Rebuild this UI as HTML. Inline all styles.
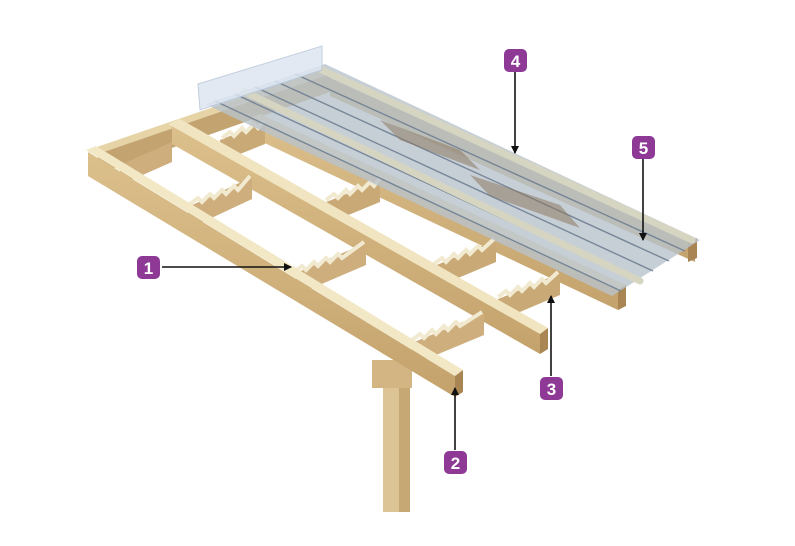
<!DOCTYPE html>
<html><head><meta charset="utf-8"><style>
html,body{margin:0;padding:0;background:#fff;width:795px;height:546px;overflow:hidden}
svg{display:block}
text{font-family:"Liberation Sans",sans-serif;font-weight:bold;font-size:17px;fill:#fff}
</style></head><body>
<svg width="795" height="546" viewBox="0 0 795 546" xmlns="http://www.w3.org/2000/svg">
<defs>
<marker id="ah" markerWidth="8" markerHeight="8" refX="7" refY="4" orient="auto" markerUnits="userSpaceOnUse">
<path d="M0,0 L8,4 L0,8 Z" fill="#111"/></marker>
<linearGradient id="wood" x1="0" y1="0" x2="0" y2="1"><stop offset="0" stop-color="#dcc08c"/><stop offset="1" stop-color="#c4a26c"/></linearGradient>
</defs>
<!-- post -->
<polygon points="383,380 410,380 410,512 383,512" fill="#dcc496"/>
<polygon points="399,380 410,380 410,512 399,512" fill="#c6a874"/>
<polygon points="372,360 412,360 412,388 372,388" fill="#d2b583"/>
<!-- back-left beam -->
<polygon points="88,150 322,70 330,74 98,154" fill="#e6d3a6"/>
<polygon points="98,154 330,74 330,92 98,174" fill="#c3a370"/>
<!-- fourth beam -->
<polygon points="330,78 695,243 695,262 330,96" fill="#c4a46f"/>
<polygon points="688,242 697,238 697,258 688,262" fill="#a88552"/>
<!-- third beam -->
<polygon points="252,117 260,114 626,285 618,290" fill="#e8d9ae"/>
<polygon points="252,117 618,290 618,310 252,137" fill="url(#wood)"/>
<polygon points="618,290 626,285 626,306 618,310" fill="#a88552"/>
<!-- joists between 2nd and 3rd beam -->
<g fill="#c9aa77">
<polygon points="220,140 265,122 265,144 220,162"/>
<polygon points="324,203 380,180 380,202 324,225"/>
<polygon points="432,267 496,240 496,262 432,289"/>
<polygon points="496,300 560,273 560,295 496,322"/>
</g>
<g fill="none" stroke="#f2ead0" stroke-width="4">
<polyline points="222,138 230,132 234,136 242,128 246,132 254,124 258,128 264,121"/>
<polyline points="326,200 334,194 338,198 346,190 350,194 358,186 362,190 370,182 374,186 380,178"/>
<polyline points="434,264 442,258 446,262 454,254 458,258 466,250 470,254 478,246 482,250 494,239"/>
<polyline points="498,297 506,291 510,295 518,287 522,291 530,283 534,287 542,279 546,283 558,272"/>
</g>
<!-- second beam -->
<polygon points="172,125 172,144 540,354 540,333" fill="url(#wood)"/>
<polygon points="168,124 180,119 548,328 540,334" fill="#f0e5c0"/>
<polygon points="540,334 548,328 548,349 540,354" fill="#a88552"/>
<!-- joists between front and 2nd beam -->
<g fill="#cdae7c">
<polygon points="188,207 252,177 252,199 188,229"/>
<polygon points="296,273 366,243 366,265 296,295"/>
<polygon points="412,343 484,313 484,335 412,365"/>
<polygon points="120,165 172,142 172,162 120,185"/>
</g>
<g fill="none" stroke="#f2ead0" stroke-width="4">
<polyline points="190,204 198,198 202,202 210,194 214,198 222,190 226,194 234,186 238,190 250,176"/>
<polyline points="294,272 302,266 306,270 314,262 318,266 326,258 330,262 338,254 342,258 364,242"/>
<polyline points="412,340 420,334 424,338 432,330 436,334 444,326 448,330 456,322 460,326 482,312"/>
</g>
<!-- front beam -->
<polygon points="88,152 455,376 455,397 88,176" fill="url(#wood)"/>
<polygon points="86,150 96,146 463,370 455,376" fill="#f2e8c6"/>
<polygon points="455,376 463,370 463,392 455,397" fill="#a88552"/>
<!-- sheets -->
<polygon points="205,104 325,64 700,240 612,296" fill="#b9c3cc" opacity="0.8"/>
<g stroke="#6f7f92" stroke-width="1.4" opacity="0.9">
<line x1="215" y1="101" x2="621" y2="291"/>
<line x1="235" y1="94" x2="637" y2="281"/>
<line x1="255" y1="87" x2="653" y2="271"/>
<line x1="275" y1="81" x2="669" y2="261"/>
<line x1="295" y1="74" x2="685" y2="251"/>
</g>
<g stroke="#d6d5c2" stroke-width="7" stroke-linecap="round">
<line x1="245" y1="92" x2="640" y2="281"/>
<line x1="322" y1="70" x2="692" y2="240"/>
</g>
<g fill="#8c7a62" opacity="0.55">
<polygon points="380,120 460,150 480,170 400,140"/>
<polygon points="470,175 560,205 580,228 490,196"/>
</g>
<!-- flashing -->
<polygon points="198,84 322,46 322,70 200,110" fill="#dde6f2" stroke="#b8c6d8" opacity="0.85"/>
<!-- arrows -->
<g stroke="#111" stroke-width="1.6">
<line x1="162" y1="267" x2="291" y2="267" marker-end="url(#ah)"/>
<line x1="455" y1="450" x2="455" y2="388" marker-end="url(#ah)"/>
<line x1="551" y1="376" x2="551" y2="296" marker-end="url(#ah)"/>
<line x1="515" y1="72" x2="515" y2="153" marker-end="url(#ah)"/>
<line x1="643" y1="159" x2="643" y2="240" marker-end="url(#ah)"/>
</g>
<!-- labels -->
<g fill="#8e3996">
<rect x="137" y="256" width="23" height="23" rx="5"/>
<rect x="444" y="451" width="23" height="23" rx="5"/>
<rect x="540" y="377" width="23" height="23" rx="5"/>
<rect x="504" y="49" width="23" height="23" rx="5"/>
<rect x="632" y="136" width="23" height="23" rx="5"/>
</g>
<text x="148.5" y="274" text-anchor="middle">1</text>
<text x="455.5" y="469" text-anchor="middle">2</text>
<text x="551.5" y="395" text-anchor="middle">3</text>
<text x="515.5" y="67" text-anchor="middle">4</text>
<text x="643.5" y="154" text-anchor="middle">5</text>
</svg>
</body></html>
